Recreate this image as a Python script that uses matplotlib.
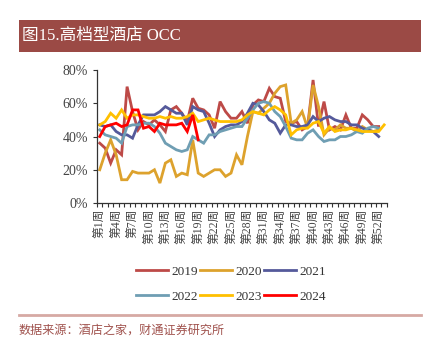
import matplotlib.pyplot as plt
from matplotlib.patches import Rectangle
from matplotlib.ticker import FixedLocator, PercentFormatter

# weekly occupancy (%) of upscale hotels
occ_2019 = [36, 33, 24, 32, 29, 70, 55, 44, 49, 47, 50, 47, 43, 56, 58, 54, 49, 63, 57, 56,
            53, 45, 61, 55, 51, 51, 55, 48, 59, 62, 61, 69, 64, 63, 49, 48, 49, 44, 46, 74,
            46, 61, 44, 46, 44, 53, 45, 45, 53, 50, 46, 46]
occ_2020 = [20, 30, 38, 29, 14, 14, 19, 18, 18, 18, 20, 12, 24, 26, 16, 18, 17, 38, 18, 16,
            18, 20, 20, 16, 18, 29, 23, 40, 55, 54, 57, 60, 66, 70, 71, 48, 50, 55, 45, 71,
            58, 41, 45, 44, 47, 45, 45, 43, 46, 44, 43, 44]
occ_2021 = [47, 46, 47, 43, 41, 41, 39, 47, 53, 53, 53, 55, 58, 56, 54, 54, 47, 58, 56, 55,
            48, 40, 44, 46, 47, 47, 49, 54, 60, 59, 55, 50, 48, 42, 47, 47, 46, 46, 47, 52,
            49, 51, 52, 50, 49, 49, 47, 47, 45, 44, 43, 40]
occ_2022 = [44, 41, 40, 39, 36, 46, 47, 47, 48, 48, 46, 42, 36, 34, 32, 31, 32, 40, 38, 36,
            41, 41, 43, 44, 45, 46, 46, 51, 56, 60, 61, 60, 55, 52, 46, 39, 38, 38, 42, 44,
            40, 37, 38, 38, 40, 40, 41, 43, 42, 45, 46, 45]
occ_2023 = [47, 49, 54, 51, 56, 51, 53, 53, 52, 51, 51, 52, 51, 52, 51, 51, 52, 54, 49, 50,
            51, 50, 49, 49, 49, 49, 50, 53, 55, 54, 53, 56, 58, 56, 53, 41, 44, 45, 45, 48,
            49, 42, 46, 43, 44, 44, 45, 44, 43, 43, 43, 43, 47]
occ_2024 = [40, 46, 47, 48, 46, 47, 56, 56, 45, 46, 43, 48, 47, 47, 47, 48, 43, 53, 38]

years = ["2019", "2020", "2021", "2022", "2023", "2024"]
colors = ["#BD4A47", "#DDA22D", "#555A9B", "#6F9EB3", "#FFC000", "#FF0000"]
series = [occ_2019, occ_2020, occ_2021, occ_2022, occ_2023, occ_2024]

n_weeks = 53
label_weeks = list(range(1, 53, 3))
week_labels = [f"第{w}周" for w in label_weeks]

cjk = ["Liberation Serif", "Noto Sans CJK SC"]

fig = plt.figure(figsize=(4.34, 3.49), dpi=100)

# title band
fig.patches.append(Rectangle((0.0438, 0.851), 0.926, 0.0917, transform=fig.transFigure,
                             facecolor="#9B4A45", edgecolor="none"))
fig.text(0.05, 0.897, "图15.高档型酒店 OCC", color="white", fontsize=12,
         family=cjk, fontweight="light", va="center", ha="left")

ax = fig.add_axes([0.2235, 0.4183, 0.668, 0.3811])
handles = []
for yr, col, vals in zip(years, colors, series):
    h, = ax.plot(range(len(vals)), vals, color=col, lw=2.0, label=yr,
                 solid_joinstyle="miter")
    handles.append(h)

ax.set_xlim(-0.5, n_weeks - 0.5)
ax.set_ylim(0, 80)
ax.set_yticks([0, 20, 40, 60, 80])
ax.yaxis.set_major_formatter(PercentFormatter(decimals=0))
ax.xaxis.set_major_locator(FixedLocator([w - 1 for w in label_weeks]))
ax.set_xticklabels(week_labels, rotation=90, family=cjk, fontsize=8.5,
                   fontweight="light", color="#444444")
ax.xaxis.set_minor_locator(FixedLocator([i - 0.5 for i in range(n_weeks + 1)]))
ax.tick_params(axis="x", which="major", length=0, pad=4)
ax.tick_params(axis="x", which="minor", length=3, width=0.8, color="#333333")
ax.tick_params(axis="y", length=3, width=0.8, color="#333333", labelsize=10)
for lbl in ax.get_yticklabels():
    lbl.set_family("Liberation Serif")
    lbl.set_color("#444444")
for side in ("top", "right"):
    ax.spines[side].set_visible(False)
for side in ("left", "bottom"):
    ax.spines[side].set_color("#333333")
    ax.spines[side].set_linewidth(0.9)

# legend: two rows of three, filled column by column
order = [0, 3, 1, 4, 2, 5]
leg = fig.legend([handles[i] for i in order], [years[i] for i in order], ncol=3,
                 loc="center", bbox_to_anchor=(0.532, 0.186), frameon=False,
                 prop={"family": "Liberation Serif", "size": 9.5},
                 handlelength=2.4, handletextpad=0.25, columnspacing=0.2,
                 labelspacing=0.95)
for t in leg.get_texts():
    t.set_color("#333333")

# footer rule and source note
fig.add_artist(plt.Line2D([0.0438, 0.97], [0.0974, 0.0974], transform=fig.transFigure,
                          color="#D6A9A4", lw=2))
fig.text(0.0438, 0.054, "数据来源：酒店之家，财通证券研究所", color="#A0524D",
         fontsize=8.7, family=cjk, fontweight="light", va="center", ha="left")

fig.savefig("out.png", dpi=100)
